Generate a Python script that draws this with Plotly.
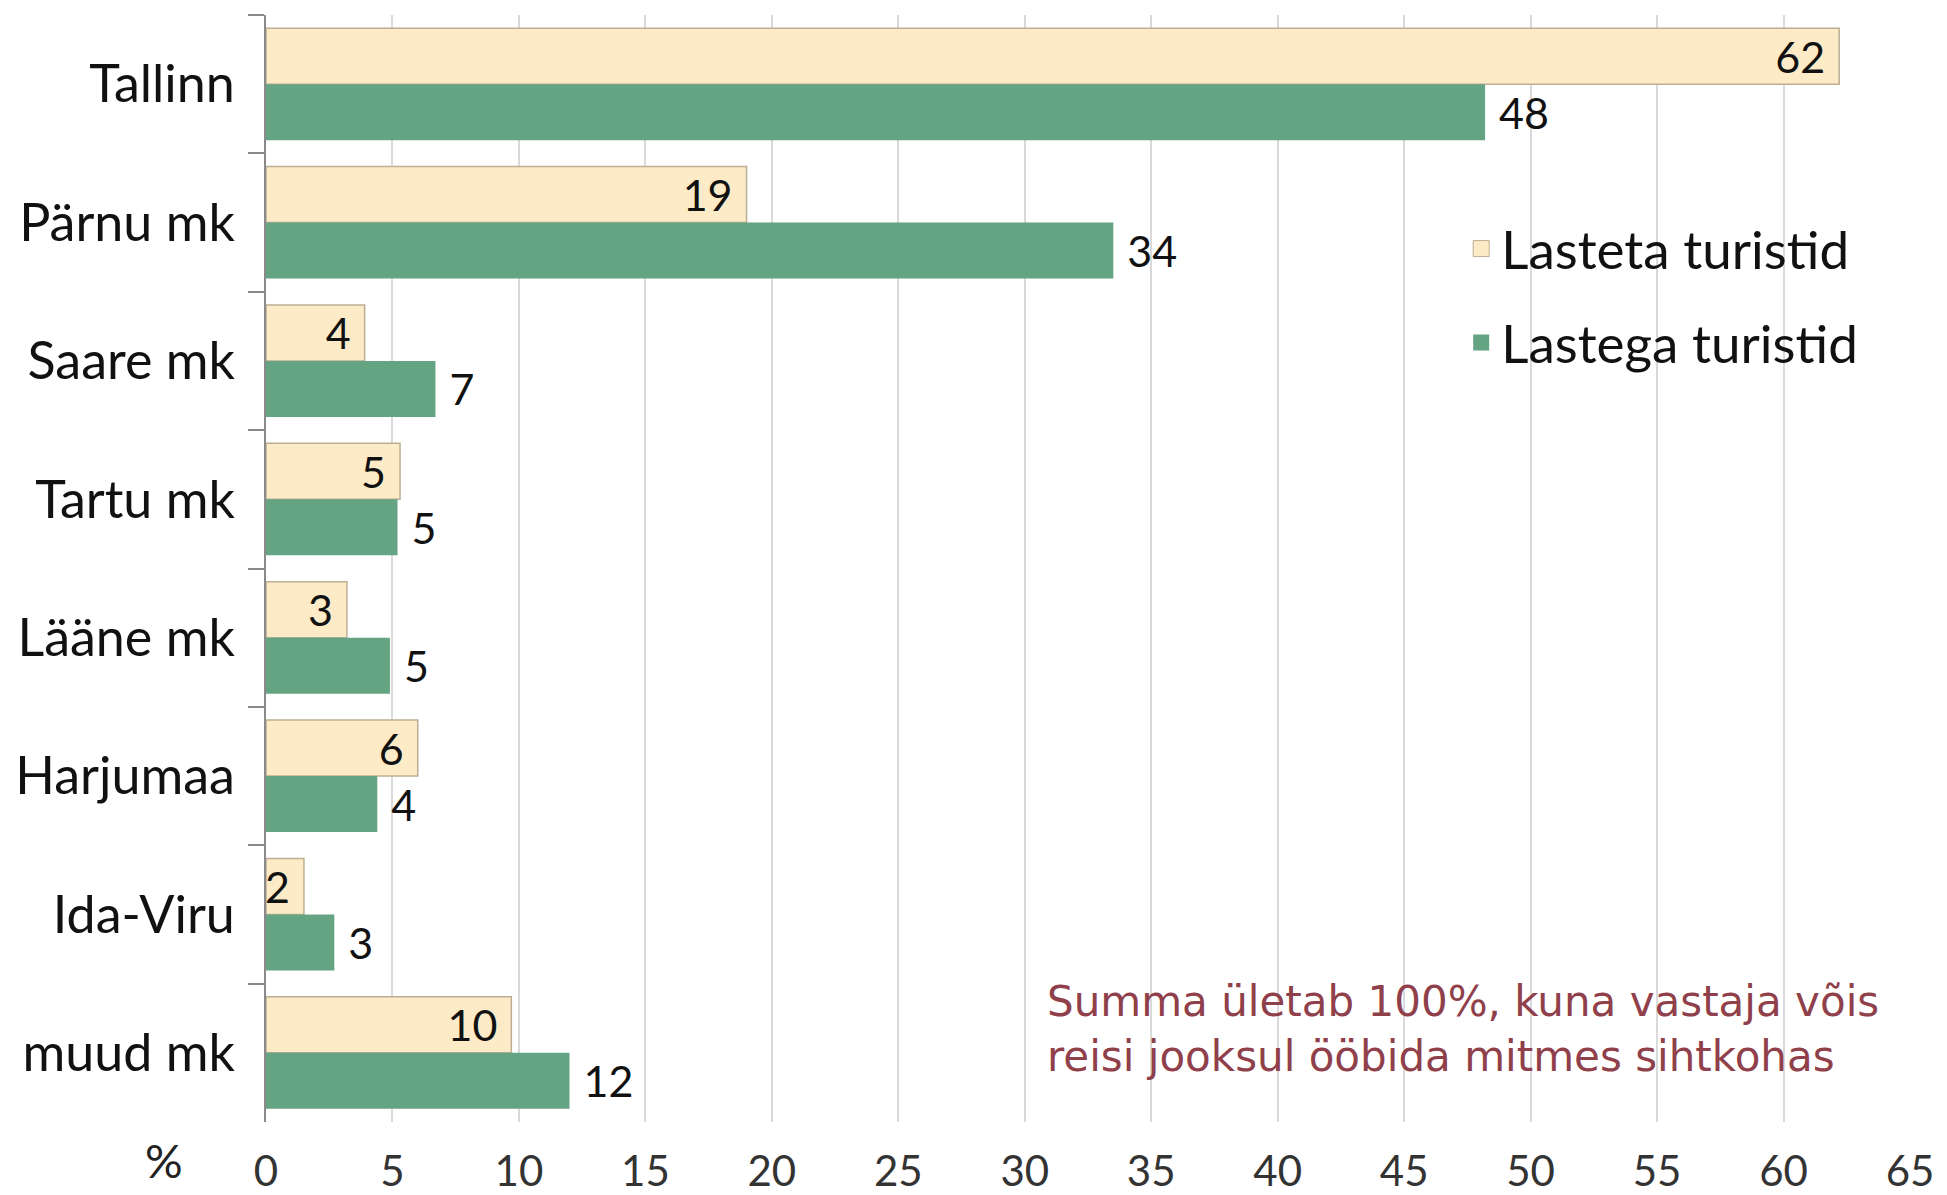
import plotly.graph_objects as go

regions = ['Tallinn', 'Pärnu mk', 'Saare mk', 'Tartu mk', 'Lääne mk', 'Harjumaa', 'Ida-Viru', 'muud mk']

# bar lengths, labels as printed
lasteta = [62.2, 19.0, 3.9, 5.3, 3.2, 6.0, 1.5, 9.7]
lastega = [48.2, 33.5, 6.7, 5.2, 4.9, 4.4, 2.7, 12.0]
lasteta_labels = ['62', '19', '4', '5', '3', '6', '2', '10']
lastega_labels = ['48', '34', '7', '5', '5', '4', '3', '12']

x_ticks = list(range(0, 70, 5))

FONT = 'Lato'
NBSP = '\u00a0'
CREAM, CREAM_EDGE, GREEN = '#FCEBC6', '#BBAE94', '#65A482'

fig = go.Figure()
fig.add_bar(
    y=regions, x=lasteta, orientation='h', name='Lasteta turistid',
    marker=dict(color=CREAM, line=dict(color=CREAM_EDGE, width=1.5)),
    text=[t + NBSP for t in lasteta_labels], textposition='inside',
    insidetextanchor='end', textangle=0,
    textfont=dict(family=FONT, size=43, color='#111111'),
    constraintext='none', showlegend=False, hoverinfo='skip',
)
fig.add_bar(
    y=regions, x=lastega, orientation='h', name='Lastega turistid',
    marker=dict(color=GREEN, line=dict(color=GREEN, width=0)),
    text=[NBSP + t for t in lastega_labels], textposition='outside', textangle=0,
    textfont=dict(family=FONT, size=43, color='#111111'),
    constraintext='none', cliponaxis=False, showlegend=False, hoverinfo='skip',
)

# legend-only entries, so the swatches can be bigger than the bar default
fig.add_scatter(x=[None], y=[None], mode='markers', name='Lasteta turistid',
                legendgroup='a',
                marker=dict(symbol='square', size=16, color=CREAM,
                            line=dict(color=CREAM_EDGE, width=1)))
fig.add_scatter(x=[None], y=[None], mode='markers', name='Lastega turistid',
                legendgroup='b',
                marker=dict(symbol='square', size=16, color=GREEN))

# page body has an 8px margin, so the figure is a bit smaller than the window
fig.update_layout(
    width=1939, height=1187,
    margin=dict(l=258, r=37, t=7, b=73, autoexpand=False),
    barmode='group', bargap=0.19, bargroupgap=0,
    plot_bgcolor='white', paper_bgcolor='white',
    font=dict(family=FONT, color='#111111'),
    showlegend=True,
    legend=dict(
        x=0.727, y=0.826, xanchor='left', yanchor='top',
        font=dict(family=FONT, size=53, color='#111111'),
        traceorder='grouped', tracegroupgap=22, itemsizing='trace',
        bgcolor='rgba(0,0,0,0)',
    ),
)

fig.update_xaxes(
    range=[0, 65], tickvals=x_ticks, ticktext=[str(v) for v in x_ticks],
    showgrid=True, gridcolor='#DADADA', gridwidth=1.5,
    zeroline=False, showline=False, ticks='', automargin=False,
    tickfont=dict(family=FONT, size=42, color='#333333'),
    ticklabelstandoff=21,
)
fig.update_yaxes(
    autorange='reversed', tickson='boundaries', ticks='outside',
    ticklen=16, tickcolor='#8A8A8A', tickwidth=1.5,
    showline=True, linecolor='#8A8A8A', linewidth=1.5,
    showgrid=False, zeroline=False, automargin=False,
    tickfont=dict(family=FONT, size=52, color='#111111'),
    ticklabelstandoff=19,
)

fig.add_annotation(
    text='%', xref='paper', yref='paper', x=-0.075, y=-0.061,
    showarrow=False, font=dict(family=FONT, size=47, color='#222222'),
)
fig.add_annotation(
    text='Summa ületab 100%, kuna vastaja võis<br>reisi jooksul ööbida mitmes sihtkohas',
    xref='x', yref='paper', x=30.8, y=0.084, xanchor='left', yanchor='middle',
    align='left', showarrow=False,
    font=dict(family='DejaVu Sans', size=42, color='#8F404A'),
)

fig.write_html('out.html')
